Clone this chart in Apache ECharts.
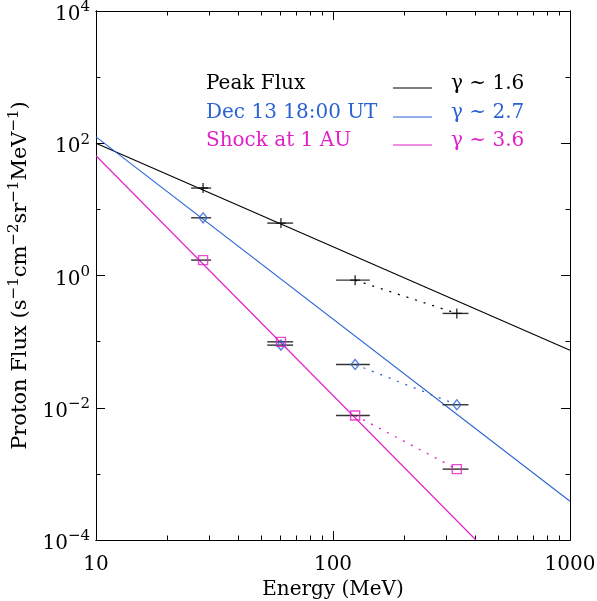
<!DOCTYPE html>
<html>
<head>
<meta charset="utf-8">
<script src="https://cdn.jsdelivr.net/npm/echarts@6/dist/echarts.min.js"></script>
<style>
html,body{margin:0;padding:0;background:#fff;}
#chart{width:597px;height:601px;}
</style>
</head>
<body>
<div id="chart"></div>
<script>
// ---- data ----
const energy     = [28.3, 60.3, 124, 333];      // MeV
const energyLow  = [25.2, 52.8, 103, 290];
const energyHigh = [30.6, 67.9, 143, 373];
const peakFlux   = [21, 6.2, 0.85, 0.267];
const dec13Flux  = [7.46, 0.0885, 0.0452, 0.0111];
const shockFlux  = [1.71, 0.0993, 0.00764, 0.00118];

const peakFitE  = [10, 1000];  const peakFitF  = [100, 0.074];
const dec13FitE = [10, 1000];  const dec13FitF = [125, 3.86e-4];
const shockFitE = [10, 401];   const shockFitF = [64.7, 1e-4];

const seriesNames = ['Peak Flux', 'Dec 13 18:00 UT', 'Shock at 1 AU'];
const gammaLabels = ['\u03b3 ~ 1.6', '\u03b3 ~ 2.7', '\u03b3 ~ 3.6'];
const colors = ['#000000', '#2a62d4', '#e21fc8'];

const xMajorTicks = [10, 100, 1000];
const xMinorTicks = [20, 30, 40, 50, 60, 70, 80, 90, 200, 300, 400, 500, 600, 700, 800, 900];
const yMajorTicks = [1e-4, 1e-2, 1, 1e2, 1e4];
const yMinorTicks = [1e-3, 1e-1, 10, 1e3];

// ---- helpers ----
const FONT = 'DejaVu Serif';
const pairs = (xs, ys) => xs.map((x, i) => [x, ys[i]]);
const errData = ys => ys.map((y, i) => [energyLow[i], energyHigh[i], y]);
const expLabel = v => {
  const e = Math.round(Math.log10(v));
  return '{b|10}{s|' + (e < 0 ? '\u2212' + (-e) : e) + '}';
};

function xAxisDef(pos, major, labels) {
  return {
    type: 'log', logBase: 10, min: 10, max: 1000, position: pos, gridIndex: 0,
    axisLine: {show: true, lineStyle: {color: '#000', width: 1}},
    axisTick: {show: true, inside: true, length: major ? 9 : 4.5,
               customValues: major ? xMajorTicks : xMinorTicks,
               lineStyle: {color: '#000', width: 1}},
    axisLabel: {show: labels, customValues: xMajorTicks, margin: 15,
                fontFamily: FONT, fontSize: 20, color: '#000',
                formatter: v => String(Math.round(v))},
    splitLine: {show: false}, minorTick: {show: false}, minorSplitLine: {show: false},
    name: labels ? 'Energy (MeV)' : '', nameLocation: 'middle', nameGap: 40,
    nameTextStyle: {fontFamily: FONT, fontSize: 20, color: '#000'}
  };
}
function yAxisDef(pos, major, labels) {
  return {
    type: 'log', logBase: 10, min: 1e-4, max: 1e4, position: pos, gridIndex: 0,
    axisLine: {show: true, lineStyle: {color: '#000', width: 1}},
    axisTick: {show: true, inside: true, length: major ? 9 : 4.5,
               customValues: major ? yMajorTicks : yMinorTicks,
               lineStyle: {color: '#000', width: 1}},
    axisLabel: {show: labels, customValues: yMajorTicks, margin: 6,
                padding: [8, 0, 0, 0],
                formatter: expLabel,
                rich: {
                  b: {fontFamily: FONT, fontSize: 20, color: '#000'},
                  s: {fontFamily: FONT, fontSize: 15, color: '#000', padding: [0, 0, 15, 0]}
                }},
    splitLine: {show: false}, minorTick: {show: false}, minorSplitLine: {show: false},
    name: labels ? 'Proton Flux (s{s|\u22121}cm{s|\u22122}sr{s|\u22121}MeV{s|\u22121})' : '',
    nameLocation: 'middle', nameGap: 58,
    nameTextStyle: {fontFamily: FONT, fontSize: 21, color: '#000',
      rich: {s: {fontFamily: FONT, fontSize: 15, color: '#000', padding: [0, 0, 14, 0]}}}
  };
}

function errSeries(ys) {
  return {
    type: 'custom', xAxisIndex: 0, yAxisIndex: 0, silent: true, z: 3,
    encode: {x: [0, 1], y: 2},
    data: errData(ys),
    renderItem: (params, api) => {
      const y = api.value(2);
      const p1 = api.coord([api.value(0), y]);
      const p2 = api.coord([api.value(1), y]);
      return {type: 'line', shape: {x1: p1[0], y1: p1[1], x2: p2[0], y2: p2[1]},
              style: {stroke: '#333', lineWidth: 1.4}};
    }
  };
}
function fitSeries(xs, ys, c) {
  return {type: 'line', xAxisIndex: 0, yAxisIndex: 0, data: pairs(xs, ys), symbol: 'none',
          lineStyle: {color: c, width: 1.1}, silent: true, z: 2};
}
function dotSeries(ys, c) {
  return {type: 'line', xAxisIndex: 0, yAxisIndex: 0,
          data: pairs(energy.slice(2), ys.slice(2)), symbol: 'none',
          lineStyle: {color: c, width: 1.3, type: [2, 7]}, silent: true, z: 2};
}
function markSeries(ys, c, sym, size) {
  return {type: 'scatter', xAxisIndex: 0, yAxisIndex: 0, data: pairs(energy, ys),
          symbol: sym, symbolSize: size,
          itemStyle: {color: 'rgba(0,0,0,0)', borderColor: c, borderWidth: 1.4}, silent: true, z: 5};
}

const chart = echarts.init(document.getElementById('chart'), null, {renderer: 'canvas'});

const legendRowsY = [86, 115, 143];
const graphics = [];
seriesNames.forEach((n, i) => {
  graphics.push({type: 'text', left: 206, top: legendRowsY[i] - 12,
    style: {text: n, fontFamily: FONT, fontSize: 20, fill: colors[i]}});
  graphics.push({type: 'line', shape: {x1: 393, y1: legendRowsY[i] + 2, x2: 432, y2: legendRowsY[i] + 2},
    style: {stroke: colors[i], lineWidth: 1}});
  graphics.push({type: 'text', left: 451, top: legendRowsY[i] - 12,
    style: {text: gammaLabels[i], fontFamily: FONT, fontSize: 20, fill: colors[i]}});
});

chart.setOption({
  animation: false,
  backgroundColor: '#fff',
  grid: {left: 96, right: 27, top: 11, bottom: 61, containLabel: false, outerBoundsMode: 'none'},
  xAxis: [xAxisDef('bottom', true, true), xAxisDef('bottom', false, false),
          xAxisDef('top', true, false), xAxisDef('top', false, false)],
  yAxis: [yAxisDef('left', true, true), yAxisDef('left', false, false),
          yAxisDef('right', true, false), yAxisDef('right', false, false)],
  graphic: graphics,
  series: [
    fitSeries(peakFitE, peakFitF, colors[0]),
    fitSeries(dec13FitE, dec13FitF, colors[1]),
    fitSeries(shockFitE, shockFitF, colors[2]),
    dotSeries(peakFlux, colors[0]),
    dotSeries(dec13Flux, colors[1]),
    dotSeries(shockFlux, colors[2]),
    errSeries(peakFlux), errSeries(dec13Flux), errSeries(shockFlux),
    markSeries(peakFlux, colors[0], 'path://M5,0L5,10M0,5L10,5', 10),
    markSeries(dec13Flux, colors[1], 'diamond', [8, 10]),
    markSeries(shockFlux, colors[2], 'rect', 9)
  ]
});
</script>
</body>
</html>
